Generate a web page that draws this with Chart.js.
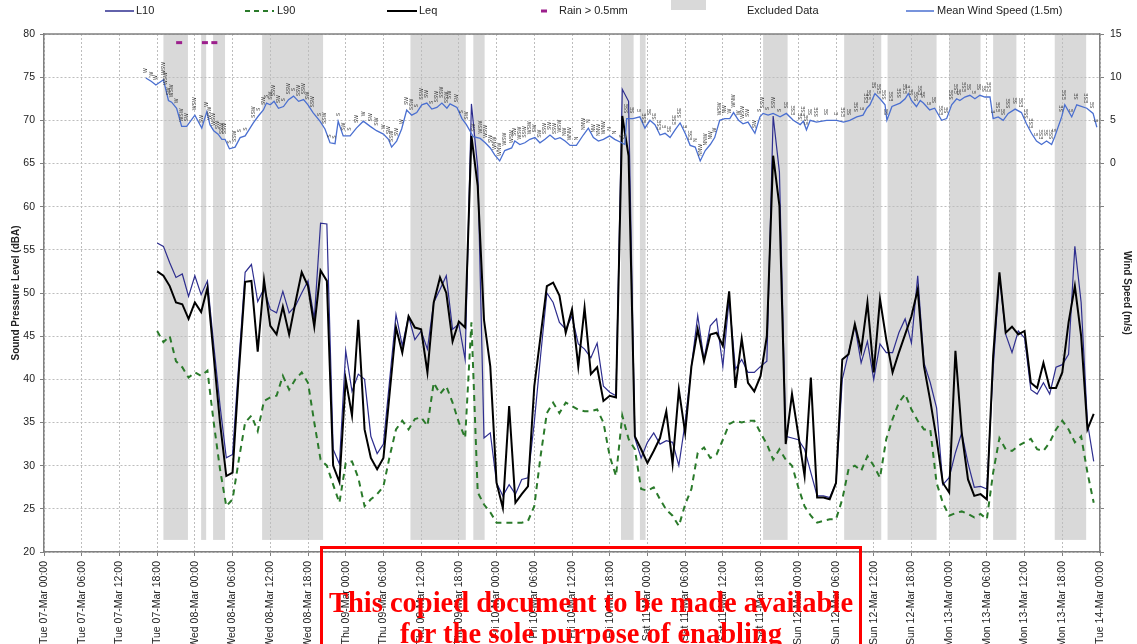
<!DOCTYPE html>
<html>
<head>
<meta charset="utf-8">
<title>Noise and wind monitoring</title>
<script src="https://cdn.jsdelivr.net/npm/chart.js@4"></script>
<style>
  html, body { margin: 0; padding: 0; background: #fff; }
  #wrap { position: relative; width: 1137px; height: 644px; overflow: hidden; }
  canvas { display: block; }
  #stamp {
    position: absolute; left: 320px; top: 546px; width: 536px; height: 140px;
    border: 3px solid #ff0000; box-sizing: content-box;
    padding-top: 38px;
    font: bold 28.5px "Liberation Serif", "Times New Roman", serif;
    line-height: 31px; color: #ff0000; text-align: center;
    pointer-events: none;
  }
</style>
</head>
<body>
<div id="wrap">
  <canvas id="chart" width="1137" height="644"></canvas>
  <div id="stamp">This copied document to be made available<br>for the sole purpose of enabling</div>
</div>
<script>
// ---- tick labels ----
const dayLabels = ['Tue 07-Mar', 'Wed 08-Mar', 'Thu 09-Mar', 'Fri 10-Mar', 'Sat 11-Mar', 'Sun 12-Mar', 'Mon 13-Mar', 'Tue 14-Mar'];
const clockLabels = ['00:00', '06:00', '12:00', '18:00'];

// ---- hourly noise levels (dBA), first value at Tue 07-Mar 18:00 ----
const noiseStartHour = 18;
const l10 = [
  55.8, 55.4, 53.5, 51.8, 52.2, 49.6, 52.0, 49.8, 51.4, 44.0, 37.0, 30.9, 31.3, 42.0, 52.4, 53.3,
  49.0, 50.5, 48.1, 47.7, 50.2, 47.7, 48.5, 50.0, 51.4, 47.0, 58.1, 58.0, 31.9, 30.2, 43.3, 38.6,
  40.6, 40.0, 33.4, 31.4, 32.5, 40.0, 47.5, 43.9, 47.3, 44.6, 45.6, 43.5, 48.9, 50.4, 52.0, 45.8,
  46.4, 42.3, 71.9, 64.5, 33.2, 33.8, 28.0, 26.5, 27.8, 26.7, 28.4, 28.6, 35.0, 42.7, 50.0, 48.9,
  46.6, 45.8, 47.3, 44.1, 43.5, 42.5, 44.2, 39.2, 38.5, 38.1, 73.6, 72.2, 33.2, 30.9, 32.7, 33.8,
  32.5, 32.9, 32.7, 30.0, 35.0, 41.5, 47.4, 42.3, 46.2, 47.0, 41.5, 49.3, 41.2, 42.3, 40.8, 40.8,
  41.5, 42.1, 70.5, 64.0, 33.4, 33.2, 33.0, 31.9, 29.2, 26.5, 26.5, 26.3, 28.0, 40.0, 43.1, 46.2,
  41.9, 44.4, 40.0, 44.1, 43.1, 43.1, 45.4, 47.0, 44.2, 52.0, 41.9, 39.6, 36.7, 27.8, 28.6, 31.5,
  33.8, 30.3, 27.5, 27.6, 27.3, 41.2, 52.0, 45.2, 43.1, 45.6, 44.8, 38.8, 38.3, 39.6, 38.3, 41.4,
  41.7, 42.9, 55.4, 48.9, 35.0, 30.5
];
const leq = [
  52.5, 52.0, 50.8, 48.9, 48.7, 47.0, 48.9, 47.8, 50.6, 42.7, 35.0, 28.8, 29.2, 40.8, 51.3, 51.4,
  43.2, 51.5, 46.2, 45.2, 48.4, 45.2, 48.9, 52.4, 50.8, 46.1, 52.6, 51.4, 30.0, 28.1, 40.0, 35.8,
  46.9, 34.2, 30.9, 29.6, 30.9, 38.5, 46.0, 43.1, 47.3, 46.0, 45.8, 40.8, 48.9, 51.8, 50.0, 44.4,
  46.7, 46.0, 68.2, 62.4, 46.9, 41.5, 28.0, 25.1, 36.9, 25.7, 26.7, 27.6, 39.2, 45.0, 50.8, 51.2,
  49.7, 45.4, 48.1, 41.5, 48.3, 40.6, 41.4, 37.5, 38.1, 37.9, 70.5, 65.9, 33.4, 31.9, 30.3, 31.7,
  33.2, 36.3, 30.2, 38.8, 33.8, 41.5, 45.8, 42.1, 45.2, 45.4, 43.9, 50.2, 39.0, 44.7, 39.6, 38.6,
  40.4, 45.0, 65.9, 60.1, 32.5, 38.3, 33.6, 28.8, 40.2, 26.3, 26.3, 26.1, 28.0, 42.3, 42.9, 46.4,
  43.3, 48.9, 40.8, 49.3, 44.6, 40.8, 43.1, 45.2, 47.3, 50.4, 41.5, 37.5, 33.1, 28.0, 26.9, 43.3,
  33.8, 28.4, 26.5, 26.7, 26.1, 42.7, 52.4, 45.4, 46.1, 45.2, 45.6, 39.6, 39.0, 41.9, 39.0, 39.0,
  40.8, 46.6, 50.8, 45.0, 34.2, 36.0
];
const l90 = [
  45.6, 44.3, 45.0, 42.1, 41.4, 40.2, 40.8, 40.4, 41.0, 35.0, 29.6, 25.3, 26.1, 30.7, 35.0, 35.8,
  34.0, 37.5, 37.9, 38.1, 40.4, 38.8, 40.0, 40.8, 39.6, 35.0, 30.7, 30.0, 27.8, 25.7, 30.3, 30.5,
  28.6, 25.3, 26.1, 26.7, 27.6, 31.1, 34.2, 35.2, 34.2, 35.4, 35.6, 34.6, 39.6, 38.3, 39.2, 37.3,
  35.0, 33.2, 46.6, 26.9, 25.5, 24.6, 23.4, 23.4, 23.4, 23.4, 23.4, 23.6, 25.3, 31.1, 36.1, 37.3,
  36.1, 37.3, 36.9, 36.5, 36.3, 36.3, 36.5, 35.0, 31.1, 28.8, 35.8, 33.1, 31.9, 27.3, 27.1, 27.5,
  26.1, 24.9, 24.2, 23.0, 25.5, 27.3, 31.5, 32.1, 30.9, 31.3, 33.0, 34.8, 35.2, 35.0, 35.2, 35.2,
  33.8, 32.5, 30.7, 31.9, 30.7, 30.0, 27.5, 25.3, 24.2, 23.4, 23.6, 23.8, 23.8, 26.1, 29.6, 30.0,
  29.4, 31.1, 30.0, 28.6, 33.1, 35.4, 37.3, 38.3, 36.5, 35.2, 34.2, 34.2, 28.0, 25.7, 24.2, 24.5,
  24.7, 24.4, 24.0, 24.4, 23.8, 29.2, 33.2, 31.9, 31.7, 32.3, 32.7, 33.1, 31.9, 31.7, 32.7, 34.2,
  35.2, 34.2, 32.7, 33.4, 29.2, 25.7
];

// ---- mean wind speed (m/s) at 1.5m, time in hours from Tue 07-Mar 00:00 ----
const windHours = [
  16.2, 17.1, 17.8, 19.0, 19.4, 19.8, 20.3, 21.1, 21.9, 22.7, 24.0, 25.1, 25.9, 26.4, 27.0, 27.7,
  28.3, 28.8, 29.5, 30.4, 31.2, 32.0, 33.3, 34.1, 34.9, 35.4, 36.0, 36.6, 37.3, 38.1, 38.9, 39.7,
  40.5, 41.3, 42.0, 42.8, 43.9, 44.7, 45.5, 46.3, 46.8, 47.6, 48.7, 49.7, 50.8, 51.9, 52.9, 54.0,
  54.8, 55.3, 56.1, 56.9, 57.7, 58.5, 59.3, 60.1, 60.9, 61.7, 62.5, 63.3, 64.1, 64.6, 65.7, 66.5,
  67.2, 68.3, 69.4, 70.2, 71.0, 71.7, 72.5, 73.3, 74.4, 74.9, 75.7, 76.5, 77.3, 78.1, 78.9, 79.7,
  80.5, 81.3, 82.1, 82.9, 83.7, 84.7, 85.8, 86.6, 87.4, 88.2, 89.0, 90.0, 90.8, 91.9, 92.4, 92.7,
  93.7, 94.8, 95.6, 96.4, 97.2, 98.0, 98.8, 99.6, 100.4, 101.2, 102.0, 102.8, 103.6, 104.4, 105.2, 106.0,
  106.7, 107.5, 108.3, 109.1, 109.7, 110.5, 111.2, 112.0, 113.1, 113.9, 114.4, 115.2, 116.0, 117.1, 118.1, 119.2,
  120.3, 120.8, 121.3, 121.9, 122.9, 124.5, 126.1, 127.2, 128.2, 129.3, 130.3, 130.9, 131.4, 132.2, 133.0, 133.8,
  134.1, 134.9, 136.2, 137.0, 137.5, 138.0, 138.8, 139.4, 139.9, 140.9, 141.7, 142.8, 143.6, 144.4, 145.2, 145.7,
  146.5, 147.3, 148.1, 148.9, 149.7, 150.5, 151.0, 151.8, 152.6, 153.4, 154.5, 155.5, 156.3, 157.1, 157.9, 158.7,
  159.5, 160.3, 160.8, 161.9, 162.4, 163.5, 164.3, 165.9, 166.9, 167.5
];
const windSpeed = [
  9.9, 9.5, 9.1, 9.7, 8.5, 7.3, 7.1, 6.4, 4.3, 4.3, 5.6, 4.1, 6.0, 4.5, 3.8, 3.4,
  2.8, 2.8, 1.7, 1.9, 3.0, 3.2, 4.7, 5.5, 6.2, 7.0, 6.8, 7.2, 6.4, 6.6, 7.4, 7.8,
  7.2, 7.4, 6.8, 5.9, 4.9, 4.0, 2.4, 2.3, 4.9, 3.2, 3.2, 4.1, 4.9, 4.3, 3.8, 3.4,
  2.8, 1.9, 2.6, 4.0, 6.2, 5.6, 5.9, 6.8, 7.0, 6.3, 6.5, 7.0, 6.4, 6.9, 6.5, 5.2,
  4.5, 3.1, 2.9, 2.4, 1.8, 1.0, 0.3, 1.5, 1.8, 2.6, 2.2, 2.4, 2.8, 3.0, 2.4, 2.8,
  3.3, 2.8, 3.0, 2.6, 2.1, 2.1, 3.3, 4.1, 3.0, 2.6, 2.8, 3.2, 2.8, 2.4, 2.2, 5.2,
  5.2, 5.4, 4.1, 5.0, 4.5, 3.3, 3.5, 3.0, 3.9, 4.7, 3.5, 2.1, 1.9, 0.3, 1.5, 2.2,
  3.0, 5.0, 5.2, 5.2, 5.9, 5.0, 4.6, 4.8, 3.5, 5.4, 5.8, 5.6, 5.8, 5.4, 5.8, 5.0,
  4.5, 4.9, 3.9, 5.0, 4.8, 5.0, 5.0, 4.8, 5.0, 5.4, 5.6, 6.4, 6.8, 8.1, 7.5, 6.8,
  5.0, 6.6, 7.0, 7.5, 8.1, 7.3, 6.6, 7.3, 7.0, 6.2, 6.4, 5.0, 5.2, 6.8, 7.5, 7.3,
  7.7, 7.9, 7.5, 7.9, 7.7, 7.7, 5.2, 5.4, 5.0, 5.8, 6.3, 5.9, 4.6, 3.5, 2.6, 2.2,
  2.6, 2.2, 3.1, 5.4, 6.8, 5.4, 6.8, 6.4, 5.8, 4.2
];
// wind direction noted at each wind reading
const windDir = (
  'W W W WSW WSW SW WSW W WSW SW ' +
  'WSW SW W WSW WSW SW SSW SSW S SSW ' +
  'S S SSW S SW S SW SSW SW S ' +
  'SSW S SSW SSW SW SSW S SSW S S ' +
  'S SW S SW W SW SW W SW SSW ' +
  'SW W SW SSW S SSW SW S SSW SSW ' +
  'SSW SW SW S SW SW WSW WSW SW WNW ' +
  'WNW WSW WSW SW WSW SSW WSW SW SW SSW ' +
  'SW SSW WSW NW WNW N NNW N NW NNW ' +
  'WNW N N S SE SSE SE E ESE SE ' +
  'SE ESE E SE ESE SSE E ESE N NNW ' +
  'NNW NW W WSW NW W WNW W WSW SW ' +
  'SW S SSW S SSW S SE ESE SE ESE ' +
  'ESE SE SSE SE E ESE SE SSE E ESE ' +
  'ESE SE ESE SSE SE ESE SSE ESE E SE ' +
  'SSE ESE SE E SE ESE SE SSE ESE SE ' +
  'ESE SE E SE SE ESE E ESE SE SSE ' +
  'SE ESE SSE ESE E ESE SE SSE E SE ' +
  'ESE E SE ESE SE E'
).split(' ');

// ---- rain > 0.5mm (hours) and excluded data periods (hours) ----
const rainHours = [21.5, 25.6, 27.1];
const excludedFrom = [19.0, 25.0, 26.9, 34.7, 58.3, 68.3, 91.8, 94.8, 114.4, 127.3, 134.2, 144.0, 151.0, 160.8];
const excludedTo   = [22.9, 25.8, 28.8, 44.4, 67.1, 70.1, 93.8, 95.7, 118.3, 133.2, 142.0, 149.0, 154.7, 165.8];

// ---- colours ----
const C_L10 = '#2e2e8f';
const C_L90 = '#2a7a2a';
const C_LEQ = '#000000';
const C_WIND = '#4a6fd0';
const C_RAIN = '#9c1f8c';
const C_BAND = '#d9d9d9';
const FONT = '"Liberation Sans", Arial, sans-serif';

const toPoints = vals => vals.map((v, i) => ({ x: noiseStartHour + i, y: v }));

// grey excluded bands sit under the grid
const backdrop = {
  id: 'backdrop',
  beforeDraw(chart) {
    const { ctx, scales: { x, y } } = chart;
    ctx.save();
    ctx.fillStyle = '#fff';
    ctx.fillRect(0, 0, chart.width, chart.height);
    ctx.fillStyle = C_BAND;
    const top = y.getPixelForValue(80), bottom = y.getPixelForValue(21.4);
    excludedFrom.forEach((h, i) => {
      const x0 = x.getPixelForValue(h), x1 = x.getPixelForValue(excludedTo[i]);
      ctx.fillRect(x0, top, x1 - x0, bottom - top);
    });
    ctx.restore();
  }
};

// small rotated wind direction notes above the wind line
const directionNotes = {
  id: 'directionNotes',
  afterDatasetsDraw(chart) {
    const meta = chart.getDatasetMeta(3);
    const { ctx } = chart;
    ctx.save();
    ctx.font = '5px ' + FONT;
    ctx.fillStyle = '#333';
    ctx.textAlign = 'left';
    ctx.textBaseline = 'middle';
    meta.data.forEach((pt, i) => {
      const txt = windDir[i];
      if (!txt) return;
      ctx.save();
      ctx.translate(pt.x, pt.y - 5);
      ctx.rotate(-Math.PI / 2);
      ctx.fillText(txt, 0, 0);
      ctx.restore();
    });
    ctx.restore();
  }
};

// legend row, axis titles and top frame line
const decorations = {
  id: 'decorations',
  afterDraw(chart) {
    const { ctx, chartArea: a } = chart;
    ctx.save();
    // frame top
    ctx.strokeStyle = '#808080';
    ctx.lineWidth = 1.5;
    ctx.beginPath();
    ctx.moveTo(a.left, a.top);
    ctx.lineTo(a.right, a.top);
    ctx.stroke();

    // legend
    const ly = 11;
    ctx.font = '11px ' + FONT;
    ctx.fillStyle = '#222';
    ctx.textBaseline = 'middle';
    ctx.textAlign = 'left';
    const seg = (x0, x1, color, width, dash) => {
      ctx.save();
      ctx.strokeStyle = color;
      ctx.lineWidth = width;
      ctx.setLineDash(dash || []);
      ctx.beginPath();
      ctx.moveTo(x0, ly);
      ctx.lineTo(x1, ly);
      ctx.stroke();
      ctx.restore();
    };
    seg(105, 134, C_L10, 1.5);
    ctx.fillText('L10', 136, ly);
    seg(245, 274, C_L90, 2, [5, 4]);
    ctx.fillText('L90', 277, ly);
    seg(387, 417, C_LEQ, 2);
    ctx.fillText('Leq', 419, ly);
    seg(541, 547, C_RAIN, 3);
    ctx.fillText('Rain > 0.5mm', 559, ly);
    ctx.fillStyle = C_BAND;
    ctx.fillRect(671, 0, 35, 10);
    ctx.fillStyle = '#222';
    ctx.fillText('Excluded Data', 747, ly);
    seg(906, 934, C_WIND, 1.5);
    ctx.fillText('Mean Wind Speed (1.5m)', 937, ly);

    // axis titles
    const cy = (a.top + a.bottom) / 2;
    ctx.font = 'bold 10px ' + FONT;
    ctx.textAlign = 'center';
    ctx.save();
    ctx.translate(16, cy);
    ctx.rotate(-Math.PI / 2);
    ctx.fillText('Sound Pressure Level (dBA)', 0, 0);
    ctx.restore();
    ctx.save();
    ctx.translate(1127, cy);
    ctx.rotate(Math.PI / 2);
    ctx.fillText('Wind Speed (m/s)', 0, 0);
    ctx.restore();
    ctx.restore();
  }
};

const gridStyle = { color: '#bdbdbd', lineWidth: 1, tickLength: 4, tickColor: '#808080' };
const axisBorder = { color: '#808080', width: 1.5, dash: [2, 2] };

new Chart(document.getElementById('chart'), {
  type: 'line',
  data: {
    datasets: [
      {
        label: 'Rain > 0.5mm',
        data: rainHours.map(h => ({ x: h, y: 79 })),
        showLine: false,
        pointStyle: 'line',
        pointRadius: 3,
        borderWidth: 3,
        borderColor: C_RAIN,
        yAxisID: 'y',
        order: 0
      },
      {
        label: 'Leq',
        data: toPoints(leq),
        borderColor: C_LEQ,
        borderWidth: 2,
        pointRadius: 0,
        yAxisID: 'y',
        order: 2
      },
      {
        label: 'L10',
        data: toPoints(l10),
        borderColor: C_L10,
        borderWidth: 1.2,
        pointRadius: 0,
        yAxisID: 'y',
        order: 3
      },
      {
        label: 'Mean Wind Speed (1.5m)',
        data: windHours.map((h, i) => ({ x: h, y: windSpeed[i] })),
        borderColor: C_WIND,
        borderWidth: 1.3,
        pointRadius: 0,
        yAxisID: 'y2',
        order: 1
      },
      {
        label: 'L90',
        data: toPoints(l90),
        borderColor: C_L90,
        borderWidth: 2,
        borderDash: [6, 5],
        pointRadius: 0,
        yAxisID: 'y',
        order: 4
      }
    ]
  },
  options: {
    responsive: false,
    animation: false,
    layout: { padding: { top: 34, left: 0, right: 0, bottom: 0 } },
    plugins: { legend: { display: false }, tooltip: { enabled: false } },
    scales: {
      x: {
        type: 'linear',
        min: 0,
        max: 168,
        afterFit: axis => { axis.height = 92; },
        afterBuildTicks: axis => {
          axis.ticks = [];
          for (let h = 0; h <= 168; h += 6) axis.ticks.push({ value: h });
        },
        ticks: {
          autoSkip: false,
          maxRotation: 90,
          minRotation: 90,
          padding: 5,
          color: '#222',
          font: { size: 10.5, family: FONT },
          callback: v => dayLabels[Math.floor(v / 24)] + ' ' + clockLabels[(v % 24) / 6]
        },
        grid: gridStyle,
        border: axisBorder
      },
      y: {
        position: 'left',
        min: 20,
        max: 80,
        afterFit: axis => { axis.width = 44; },
        ticks: { stepSize: 5, padding: 5, color: '#222', font: { size: 10.5, family: FONT } },
        grid: gridStyle,
        border: axisBorder
      },
      y2: {
        position: 'right',
        min: -45,
        max: 15,
        afterFit: axis => { axis.width = 37; },
        ticks: {
          stepSize: 5,
          padding: 6,
          color: '#222',
          font: { size: 10.5, family: FONT },
          callback: v => (v >= 0 ? v : '')
        },
        grid: { drawOnChartArea: false, tickLength: 4, tickColor: '#808080' },
        border: { color: '#808080', width: 1.5 }
      }
    }
  },
  plugins: [backdrop, directionNotes, decorations]
});
</script>
</body>
</html>
